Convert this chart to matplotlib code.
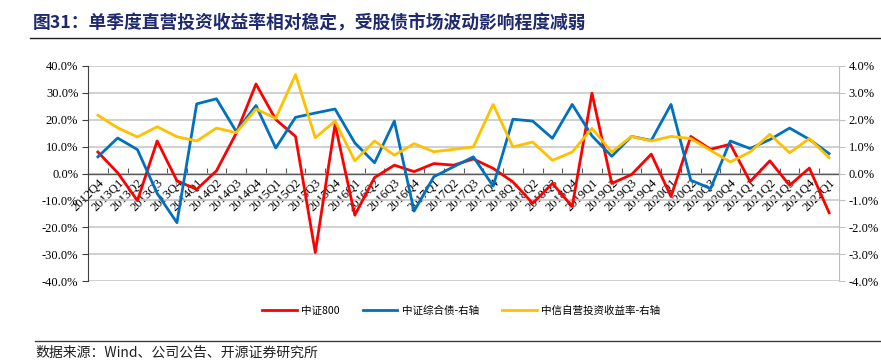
# -*- coding: utf-8 -*-
import numpy as np
import matplotlib
matplotlib.use("Agg")
import matplotlib.pyplot as plt
from matplotlib.lines import Line2D
from matplotlib.ticker import FixedLocator, FuncFormatter

plt.rcParams['font.family'] = ['Noto Sans CJK SC', 'DejaVu Sans']

# ========================
# データ
# ========================
quarters = ['2012Q4',
            '2013Q1', '2013Q2', '2013Q3', '2013Q4',
            '2014Q1', '2014Q2', '2014Q3', '2014Q4',
            '2015Q1', '2015Q2', '2015Q3', '2015Q4',
            '2016Q1', '2016Q2', '2016Q3', '2016Q4',
            '2017Q1', '2017Q2', '2017Q3', '2017Q4',
            '2018Q1', '2018Q2', '2018Q3', '2018Q4',
            '2019Q1', '2019Q2', '2019Q3', '2019Q4',
            '2020Q1', '2020Q2', '2020Q3', '2020Q4',
            '2021Q1', '2021Q2', '2021Q3', '2021Q4',
            '2022Q1']

# 中证800 (左轴, %)
csi800 = [8.0, 0.3, -10.1, 12.1, -2.7, -5.9, 1.0, 15.0, 33.3, 20.1,
          13.8, -29.4, 18.3, -15.5, -1.5, 3.1, 0.7, 3.7, 3.1, 5.4,
          1.9, -3.1, -11.1, -3.7, -12.3, 29.9, -3.7, -0.4, 7.2, -8.6,
          13.8, 9.0, 10.9, -3.0, 4.7, -4.4, 2.0, -14.6]

# 中证综合债 (右轴, %)
bond = [0.62, 1.32, 0.89, -0.74, -1.83, 2.59, 2.78, 1.56, 2.53, 0.95,
        2.09, 2.25, 2.40, 1.14, 0.40, 1.95, -1.40, -0.12, 0.25, 0.62,
        -0.47, 2.02, 1.95, 1.31, 2.57, 1.40, 0.64, 1.38, 1.23, 2.57,
        -0.25, -0.56, 1.21, 0.93, 1.26, 1.69, 1.27, 0.74]

# 中信自营投资收益率 (右轴, %)
citic = [2.17, 1.70, 1.36, 1.74, 1.37, 1.21, 1.69, 1.52, 2.40, 2.05,
         3.68, 1.33, 1.95, 0.47, 1.21, 0.68, 1.11, 0.81, 0.90, 0.99,
         2.57, 0.99, 1.17, 0.49, 0.80, 1.68, 0.80, 1.38, 1.21, 1.38,
         1.30, 0.86, 0.43, 0.80, 1.46, 0.77, 1.30, 0.59]

labels = ['中证800', '中证综合债-右轴', '中信自营投资收益率-右轴']
colors = ['#FF0000', '#0070C0', '#FFC000']

serif = 'Liberation Serif'

# ========================
# プロット
# ========================
fig = plt.figure(figsize=(8.81, 3.61), dpi=100)
ax = fig.add_axes([88 / 881, 1 - 281 / 361, (839 - 88) / 881, (281 - 66) / 361])
ax2 = ax.twinx()

x = np.arange(len(quarters))
l1, = ax.plot(x, csi800, color=colors[0], lw=2.0, zorder=3)
l2, = ax2.plot(x, bond, color=colors[1], lw=2.0, zorder=3)
l3, = ax2.plot(x, citic, color=colors[2], lw=2.0, zorder=3)

ax.set_xlim(-0.5, len(quarters) - 0.5)
ax.set_ylim(-40, 40)
ax2.set_ylim(-4, 4)

ax.set_yticks(np.arange(-40, 41, 10))
ax2.set_yticks(np.arange(-4, 4.1, 1))
ax.yaxis.set_major_formatter(FuncFormatter(lambda v, p: '%.1f%%' % v))
ax2.yaxis.set_major_formatter(FuncFormatter(lambda v, p: '%.1f%%' % v))
ax.tick_params(axis='y', direction='out', length=4, width=0.8, color='#404040', pad=3,
               labelsize=9, labelfontfamily=serif)
ax2.tick_params(axis='y', direction='out', length=4, width=0.8, color='#BFBFBF', pad=3,
                labelsize=9, labelfontfamily=serif)

# 罫線
ax.grid(axis='y', color='#C8C8C8', lw=1.2)
ax.set_axisbelow(True)

# x軸はゼロの位置に
ax.spines['bottom'].set_position(('data', 0))
ax.spines['bottom'].set_color('#595959')
ax.spines['bottom'].set_linewidth(1.0)
ax.spines['bottom'].set_zorder(2)
ax.spines['top'].set_visible(False)
ax2.spines['top'].set_visible(False)
ax2.spines['bottom'].set_visible(False)
ax2.spines['left'].set_visible(False)
ax.spines['right'].set_visible(False)
ax.spines['left'].set_color('#404040')
ax2.spines['right'].set_color('#BFBFBF')

ax.set_xticks(x)
ax.set_xticklabels(quarters, rotation=45, ha='right', va='top', rotation_mode='anchor')
ax.xaxis.set_minor_locator(FixedLocator(np.arange(-0.5, len(quarters), 1)))
ax.tick_params(axis='x', which='major', length=0, pad=2, labelsize=9, labelfontfamily=serif)
ax.tick_params(axis='x', which='minor', direction='in', length=4, width=0.8, color='#595959')

# 凡例
fig.legend([l1, l2, l3], labels, loc='center', bbox_to_anchor=(461 / 881, 1 - 311 / 361),
           ncol=3, frameon=False, fontsize=7.6, handlelength=3.3, columnspacing=2.2,
           handletextpad=0.4)

# タイトルと出典
fig.text(33 / 881, 1 - 23 / 361, '图31：单季度直营投资收益率相对稳定，受股债市场波动影响程度减弱',
         fontsize=12.8, fontweight='bold', color='#1F2A6E', va='center', ha='left')
fig.add_artist(Line2D([30 / 881, 1], [1 - 38 / 361] * 2, color='#202020', lw=1.0))
fig.add_artist(Line2D([35 / 881, 1], [1 - 341 / 361] * 2, color='#404040', lw=1.0))
fig.text(35 / 881, 1 - 353 / 361, '数据来源：Wind、公司公告、开源证券研究所',
         fontsize=10, color='#202020', va='center', ha='left')

plt.savefig('out.png', dpi=100)
